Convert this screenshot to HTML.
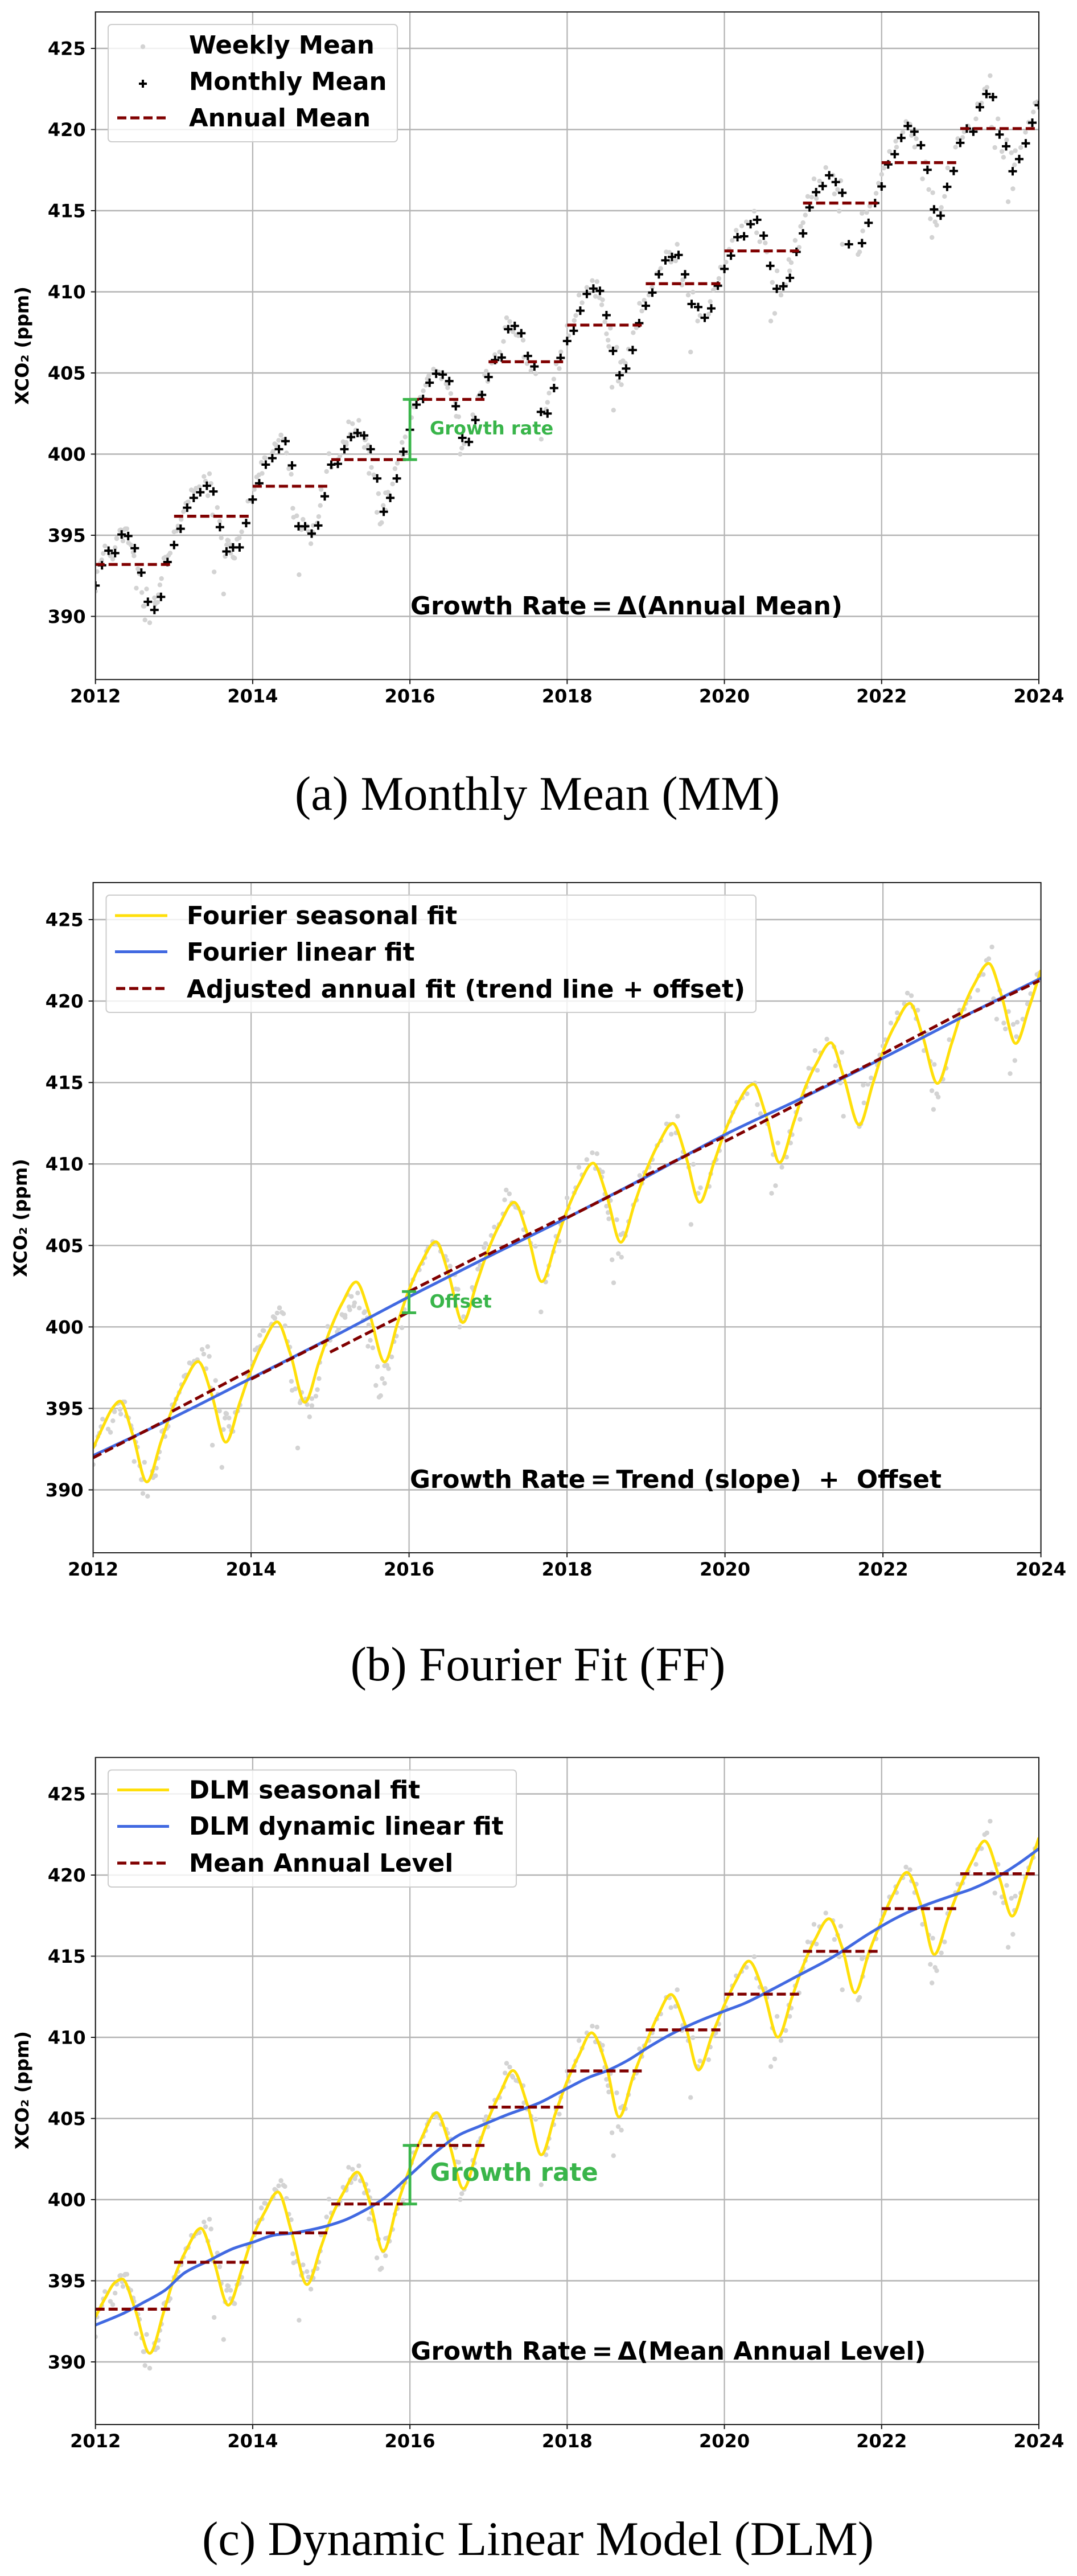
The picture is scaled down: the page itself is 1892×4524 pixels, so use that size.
<!DOCTYPE html>
<html lang="en">
<head>
<meta charset="utf-8">
<title>XCO2 growth rate methods</title>
<style>
html,body{margin:0;padding:0;background:#fff;}
svg{display:block;}
.sans{font-family:"DejaVu Sans","Liberation Sans",sans-serif;font-weight:700;fill:#000;}
.serif{font-family:"Liberation Serif","DejaVu Serif",serif;font-weight:400;fill:#000;}
.leg{font-size:43.5px;}
.formula{font-size:43.8px;}
.caption{font-size:85px;}
.ylab{font-size:32px;}
.green{fill:#39b54a;}
</style>
</head>
<body>
<svg xmlns="http://www.w3.org/2000/svg" width="1892" height="4524" viewBox="0 0 1892 4524">
  <rect x="0" y="0" width="1892" height="4524" fill="#fff"/>

  <!-- Panel A -->
  <g id="panel-a">
    <g id="a-grid"></g>
    <g id="a-marks"></g>
    <g id="a-axes"></g>
    <text class="sans ylab" transform="translate(50 607) rotate(-90)" text-anchor="middle">XCO₂ (ppm)</text>
    <g>
      <rect x="190" y="43" width="508" height="206" rx="6" fill="#fff" fill-opacity="0.8" stroke="#cccccc" stroke-width="2"/>
      <circle cx="251" cy="82" r="4.2" fill="#d3d3d3"/>
      <path d="M244 147H258M251 140V154" stroke="#000" stroke-width="4" fill="none"/>
      <line x1="206" y1="207" x2="294" y2="207" stroke="#800000" stroke-width="5.2" stroke-dasharray="16 7"/>
      <text class="sans leg" x="332" y="94">Weekly Mean</text>
      <text class="sans leg" x="332" y="158">Monthly Mean</text>
      <text class="sans leg" x="332" y="222">Annual Mean</text>
    </g>
    <text class="sans green" font-size="32" x="755" y="763">Growth rate</text>
    <text class="sans formula" x="721" y="1079" textLength="759">Growth Rate&#8201;=&#8201;Δ(Annual Mean)</text>
    <text class="serif caption" x="944" y="1422" text-anchor="middle">(a) Monthly Mean (MM)</text>
  </g>

  <!-- Panel B -->
  <g id="panel-b">
    <g id="b-grid"></g>
    <g id="b-marks"></g>
    <g id="b-axes"></g>
    <text class="sans ylab" transform="translate(47 2139) rotate(-90)" text-anchor="middle">XCO₂ (ppm)</text>
    <g>
      <rect x="186.5" y="1572" width="1141.5" height="206" rx="6" fill="#fff" fill-opacity="0.8" stroke="#cccccc" stroke-width="2"/>
      <line x1="202" y1="1608" x2="294" y2="1608" stroke="#ffdf0a" stroke-width="5"/>
      <line x1="202" y1="1671.5" x2="294" y2="1671.5" stroke="#4169e1" stroke-width="5"/>
      <line x1="204" y1="1736" x2="294" y2="1736" stroke="#800000" stroke-width="5.2" stroke-dasharray="16 7"/>
      <text class="sans leg" x="328" y="1623">Fourier seasonal fit</text>
      <text class="sans leg" x="328" y="1687">Fourier linear fit</text>
      <text class="sans leg" x="328" y="1752" textLength="981">Adjusted annual fit (trend line + offset)</text>
    </g>
    <text class="sans green" font-size="32" x="754.6" y="2296.5">Offset</text>
    <text class="sans formula" x="720" y="2613" textLength="934">Growth Rate&#8201;=&#8201;Trend (slope)&#160;&#160;+&#160;&#160;Offset</text>
    <text class="serif caption" x="945" y="2951" text-anchor="middle">(b) Fourier Fit (FF)</text>
  </g>

  <!-- Panel C -->
  <g id="panel-c">
    <g id="c-grid"></g>
    <g id="c-marks"></g>
    <g id="c-axes"></g>
    <text class="sans ylab" transform="translate(50 3671) rotate(-90)" text-anchor="middle">XCO₂ (ppm)</text>
    <g>
      <rect x="190" y="3108.5" width="717" height="205.5" rx="6" fill="#fff" fill-opacity="0.8" stroke="#cccccc" stroke-width="2"/>
      <line x1="206" y1="3143.5" x2="297" y2="3143.5" stroke="#ffdf0a" stroke-width="5"/>
      <line x1="206" y1="3207.5" x2="297" y2="3207.5" stroke="#4169e1" stroke-width="5"/>
      <line x1="206" y1="3272" x2="297" y2="3272" stroke="#800000" stroke-width="5.2" stroke-dasharray="16 7"/>
      <text class="sans leg" x="332" y="3158.5">DLM seasonal fit</text>
      <text class="sans leg" x="332" y="3222">DLM dynamic linear fit</text>
      <text class="sans leg" x="332" y="3287">Mean Annual Level</text>
    </g>
    <text class="sans green" font-size="43.5" x="755.5" y="3830">Growth rate</text>
    <text class="sans formula" x="721.5" y="4144" textLength="905">Growth Rate&#8201;=&#8201;Δ(Mean Annual Level)</text>
    <text class="serif caption" x="945" y="4487" text-anchor="middle">(c) Dynamic Linear Model (DLM)</text>
  </g>
</svg>

<script>
// ---- Axis ticks ----
const xTickYears = [2012, 2014, 2016, 2018, 2020, 2022, 2024];
const xTickLabels = ['2012', '2014', '2016', '2018', '2020', '2022', '2024'];
const yTickValues = [390, 395, 400, 405, 410, 415, 420, 425];
const yTickLabels = ['390', '395', '400', '405', '410', '415', '420', '425'];

// ---- Weekly means (shared by all panels) ----
const weeklyDates = [
2012.00,2012.02,2012.06,2012.08,2012.10,2012.12,2012.19,2012.22,2012.25,2012.27,2012.31,2012.32,2012.35,2012.37,2012.40,2012.42,2012.45,2012.48,2012.49,2012.52,2012.54,2012.56,2012.59,2012.61,2012.63,2012.65,2012.69,2012.75,2012.76,2012.79,2012.82,2012.84,2012.87,2012.89,2012.91,2012.93,2012.95,
2013.00,2013.03,2013.05,2013.09,2013.12,2013.15,2013.18,2013.22,2013.25,2013.28,2013.32,2013.38,2013.40,2013.43,2013.45,2013.47,2013.49,2013.51,2013.55,2013.58,2013.60,2013.63,2013.65,2013.67,2013.69,2013.72,2013.75,2013.77,2013.80,2013.83,2013.86,
2013.94,2013.96,2014.02,2014.05,2014.08,2014.12,2014.11,2014.15,2014.26,2014.28,2014.30,2014.33,2014.36,2014.39,2014.43,2014.46,2014.49,2014.51,2014.52,2014.56,2014.59,2014.63,2014.64,2014.69,2014.74,2014.77,2014.84,2014.86,2014.87,
2014.94,2014.97,2015.00,2015.09,2015.11,2015.16,2015.19,2015.22,2015.24,2015.27,2015.31,2015.35,2015.42,2015.44,2015.47,2015.49,2015.48,2015.51,2015.54,2015.60,2015.58,2015.62,2015.64,2015.66,2015.69,2015.72,2015.78,2015.81,2015.84,2015.91,2015.90,2015.94,
2016.02,2016.05,2016.13,2016.17,2016.20,2016.22,2016.24,2016.30,2016.34,2016.37,2016.40,2016.46,2016.48,2016.52,2016.58,2016.59,2016.62,2016.64,2016.66,2016.69,2016.80,2016.82,2016.87,2016.90,
2016.95,2016.97,2016.99,2017.04,2017.08,2017.14,2017.19,2017.21,2017.23,2017.27,2017.30,2017.31,2017.35,2017.38,2017.44,2017.45,2017.49,2017.54,2017.60,2017.67,2017.73,2017.75,2017.77,2017.83,2017.86,2017.90,2017.92,
2018.00,2018.02,2018.09,2018.11,2018.15,2018.19,2018.25,2018.32,2018.38,2018.36,2018.41,2018.45,2018.44,2018.48,2018.50,2018.52,2018.53,2018.55,2018.57,2018.59,2018.63,2018.65,2018.69,2018.68,2018.71,2018.74,2018.78,2018.84,2018.88,2018.92,2018.95,2018.98,
2019.04,2019.08,2019.14,2019.19,2019.26,2019.30,2019.32,2019.38,2019.40,2019.46,2019.47,2019.54,2019.57,2019.60,2019.66,2019.69,2019.80,2019.82,2019.86,2019.89,2019.93,2019.95,
2020.02,2020.06,2020.10,2020.15,2020.22,2020.28,2020.38,2020.41,2020.45,2020.52,2020.54,2020.59,2020.61,2020.64,2020.67,2020.72,2020.78,2020.82,2020.83,2020.85,2020.90,2020.95,2020.97,
2021.00,2021.03,2021.06,2021.11,2021.14,2021.17,2021.21,2021.29,2021.38,2021.40,2021.44,2021.46,2021.48,2021.50,2021.70,2021.72,2021.75,2021.76,2021.81,2021.85,2021.93,2021.96,
2022.00,2022.03,2022.10,2022.18,2022.19,2022.27,2022.31,2022.36,2022.38,2022.42,2022.44,2022.52,2022.56,2022.60,2022.62,2022.64,2022.65,2022.68,2022.70,2022.76,2022.80,2022.84,2022.94,2022.97,
2023.03,2023.05,2023.10,2023.20,2023.22,2023.27,2023.31,2023.34,2023.38,2023.40,2023.44,2023.48,2023.53,2023.55,2023.59,2023.61,2023.65,2023.67,2023.69,2023.70,2023.77,2023.83,2023.87,2023.93,2023.95,2023.98,
2014.11,2014.16,2014.25,2014.30,2014.36,2014.41,2015.15,2015.19,2015.25,2015.30,2015.37,2015.43,2014.62,2014.71,2014.77,2014.82,
2013.17,2013.22,2013.32,2013.68,2013.67,2013.72,2013.76,2012.27,2012.34,2012.38,2012.62,2012.76,2012.80,2015.69,2015.74
];
const weeklyValues = [
391.55,392.76,393.27,393.48,393.88,394.34,393.73,393.53,394.24,394.79,395.30,395.33,394.65,395.35,395.40,394.53,394.41,393.94,393.73,391.74,392.93,392.62,391.47,390.63,389.78,391.69,389.61,391.14,390.75,390.87,391.94,392.33,393.59,393.65,393.27,393.76,393.90,
395.21,395.26,395.57,395.98,396.46,396.97,397.05,397.79,397.73,397.90,397.99,398.62,398.33,397.44,398.79,398.19,396.25,392.74,396.71,395.86,394.84,391.38,393.70,394.41,394.67,393.90,393.65,393.59,394.75,394.84,395.21,
397.10,397.14,397.82,398.59,398.72,398.81,399.49,399.78,400.17,400.63,400.55,400.85,401.18,400.89,400.07,399.10,398.76,396.66,396.11,396.20,392.57,395.47,395.98,395.57,394.48,395.60,396.15,396.83,397.82,
398.93,400.03,399.18,399.69,399.90,400.72,400.72,401.99,401.23,401.87,401.48,402.08,400.41,400.94,400.55,400.12,398.81,399.18,398.72,397.56,396.41,395.69,395.78,396.83,396.54,397.65,398.16,399.10,399.44,399.95,400.72,401.06,
402.25,402.90,403.50,403.90,404.25,404.64,404.83,405.24,405.11,405.05,404.64,404.33,404.09,403.73,403.20,402.33,402.30,400.00,400.37,400.63,402.42,402.25,403.55,403.78,
404.87,405.11,404.48,405.61,406.13,406.29,406.94,407.80,408.40,408.17,407.62,407.54,407.34,407.30,407.02,405.97,405.58,405.14,404.95,400.92,402.76,403.19,403.76,404.62,405.56,405.27,406.30,
407.92,407.29,408.23,408.54,409.80,409.33,410.27,410.69,410.63,409.72,409.64,409.51,409.20,408.15,407.41,407.02,406.63,407.76,404.12,402.71,406.58,404.50,404.28,405.66,405.75,405.60,406.47,407.48,407.79,409.29,408.82,409.48,
409.80,410.27,411.13,411.44,412.46,412.43,411.83,411.91,412.93,410.42,410.74,409.80,406.29,409.98,408.20,408.54,408.62,409.40,410.11,410.27,410.82,411.52,
411.83,412.62,413.17,413.79,414.06,414.31,414.97,413.64,413.09,413.01,412.46,408.20,410.58,408.67,411.29,409.80,410.42,411.99,411.29,411.80,413.17,412.74,414.03,
414.26,414.73,415.88,415.83,416.96,415.75,416.82,417.66,417.19,416.03,416.30,414.97,416.85,412.93,412.30,412.46,414.84,413.75,414.89,415.28,416.07,416.69,
417.24,417.63,418.65,419.28,418.92,419.83,420.49,420.33,419.64,418.92,419.44,416.96,418.00,416.30,414.50,413.35,416.11,414.31,414.11,415.20,415.88,417.63,418.92,419.44,
419.51,419.86,420.22,420.66,421.58,421.63,422.49,422.60,423.32,420.14,418.89,420.66,418.65,418.29,419.36,415.55,418.57,416.35,417.82,418.70,418.89,419.83,420.45,421.08,421.63,421.71,
399.48,399.77,400.06,400.52,401.16,400.81,400.76,400.58,401.05,401.28,401.16,400.87,395.34,395.23,395.17,395.75,
397.03,397.79,397.96,394.70,394.41,394.41,393.60,394.82,394.94,395.40,390.63,390.86,391.33,397.61,397.44
];

// ---- Panel A: monthly means, one per month starting Jan 2012 (null = no data) ----
const monthlyValues = [
391.9,393.15,394.05,393.9,395.05,394.95,394.2,392.7,390.9,390.4,391.2,393.35,
394.4,395.4,396.7,397.3,397.65,398.05,397.7,395.5,394.0,394.25,394.25,395.75,
397.2,398.2,399.35,399.75,400.3,400.8,399.3,395.55,395.55,395.1,395.6,397.4,
399.35,399.4,400.3,401.05,401.3,401.15,400.3,398.5,396.45,397.3,398.5,400.15,
401.5,403.05,403.4,404.4,404.95,404.9,404.5,402.95,401.0,400.75,402.1,403.65,
404.75,405.8,405.95,407.7,407.9,407.45,406.05,405.4,402.6,402.5,404.07,405.93,
406.97,407.6,408.84,409.87,410.2,410.06,408.56,406.36,404.86,405.27,406.41,408.07,
409.14,409.95,411.08,411.94,412.15,412.27,411.08,409.25,409.06,408.4,408.98,410.38,
411.41,412.23,413.37,413.42,414.17,414.44,413.46,411.6,410.19,410.34,410.86,412.46,
413.6,415.2,416.14,416.52,417.18,416.76,416.1,412.93,null,413.0,414.25,415.47,
416.49,417.85,418.48,419.48,420.22,419.87,419.03,417.52,415.08,414.69,416.47,417.45,
419.18,420.06,419.87,421.38,422.19,422.0,419.69,418.97,417.43,418.18,419.15,420.42,
421.5
];
const annualYears = [2012,2013,2014,2015,2016,2017,2018,2019,2020,2021,2022,2023];
const annualMeans = [393.2,396.17,398.02,399.66,403.37,405.69,407.95,410.5,412.52,415.47,417.96,420.06];

// ---- Panel B: Fourier fit ----
const fourierDates = [
2012.00,2012.12,2012.25,2012.34,2012.50,2012.68,2012.86,2013.00,2013.15,2013.33,2013.50,2013.68,
2013.86,2014.00,2014.15,2014.33,2014.50,2014.68,2014.86,2015.00,2015.15,2015.33,2015.50,2015.69,
2015.86,2016.00,2016.15,2016.34,2016.50,2016.68,2016.86,2017.00,2017.15,2017.33,2017.50,2017.68,
2017.86,2018.00,2018.15,2018.33,2018.50,2018.68,2018.86,2019.00,2019.15,2019.34,2019.50,2019.68,
2019.86,2020.00,2020.15,2020.30,2020.36,2020.52,2020.69,2020.87,2021.00,2021.15,2021.34,2021.50,2021.70,
2021.87,2022.00,2022.15,2022.34,2022.50,2022.69,2022.87,2023.00,2023.15,2023.34,2023.50,2023.68,
2023.85,2024.00
];
const fourierSeasonal = [
392.55,393.83,395.05,395.44,393.40,390.49,392.96,394.94,396.57,397.87,395.87,392.93,
395.40,397.36,399.00,400.31,398.30,395.38,397.85,399.81,401.43,402.76,400.80,397.85,
400.32,402.28,403.90,405.23,403.25,400.27,402.74,404.70,406.32,407.65,405.70,402.78,
405.20,407.14,408.74,410.05,408.10,405.20,407.64,409.57,411.17,412.49,410.55,407.65,
410.08,412.00,413.60,414.75,414.90,412.97,410.09,412.55,414.50,416.10,417.44,415.40,412.40,
414.90,416.88,418.50,419.86,417.90,414.95,417.40,419.36,420.98,422.31,420.35,417.40,
419.60,421.90
];
const trendYears = [2012,2013,2014,2015,2016,2017,2018,2019,2020,2021,2022,2023,2024];
const fourierLinear = [392.1,394.4,396.85,399.3,401.85,404.3,406.7,409.2,411.8,414.1,416.5,419.0,421.4];
const adjustedStart = [391.97,394.82,396.8,398.45,402.17,404.45,406.7,409.3,411.39,414.15,416.76,419.0];
const adjustedEnd   = [394.41,397.32,399.22,400.87,404.57,406.8,409.1,411.65,413.83,416.5,419.25,421.25];

// ---- Panel C: DLM ----
const dlmDates = [
2012.00,2012.12,2012.25,2012.34,2012.50,2012.69,2012.87,2013.00,2013.15,2013.34,2013.50,2013.69,
2013.87,2014.00,2014.15,2014.32,2014.50,2014.69,2014.87,2015.00,2015.15,2015.33,2015.50,2015.66,
2015.84,2016.00,2016.15,2016.34,2016.50,2016.68,2016.86,2017.00,2017.15,2017.31,2017.50,2017.67,
2017.85,2018.00,2018.15,2018.31,2018.50,2018.66,2018.84,2019.00,2019.15,2019.32,2019.50,2019.67,
2019.85,2020.00,2020.15,2020.31,2020.50,2020.68,2020.86,2021.00,2021.15,2021.33,2021.50,2021.66,
2021.84,2022.00,2022.15,2022.32,2022.50,2022.67,2022.85,2023.00,2023.15,2023.31,2023.50,2023.66,
2023.84,2024.00
];
const dlmSeasonal = [
392.76,393.90,394.90,395.11,393.30,390.53,393.11,395.15,396.84,398.23,396.30,393.50,
395.83,397.70,399.20,400.47,397.90,394.77,397.10,398.90,400.40,401.69,399.70,396.82,
399.70,401.95,403.80,405.36,403.45,400.67,403.10,405.00,406.60,407.95,405.75,402.76,
405.30,407.30,408.90,410.28,408.20,405.09,407.60,409.60,411.30,412.64,410.80,407.99,
410.24,412.00,413.50,414.70,412.80,410.01,412.45,414.40,416.00,417.31,415.50,412.75,
415.25,417.20,418.85,420.17,418.15,415.11,417.45,419.30,420.85,422.10,419.80,417.47,
419.90,422.30
];
const dlmLevelDates = [2012,2012.36,2012.58,2012.88,2013.14,2013.45,2013.76,2014,2014.28,2014.5,2014.85,2015.15,2015.41,2015.66,2016,2016.34,2016.64,2016.9,2017.21,2017.64,2017.9,2018.29,2018.51,2018.77,2019.03,2019.32,2019.67,2020,2020.26,2020.61,2020.96,2021.31,2021.48,2021.83,2022.18,2022.44,2022.92,2023.14,2023.49,2023.75,2024];
const dlmLevelValues = [392.27,393,393.58,394.4,395.51,396.26,397,397.37,397.82,397.93,398.26,398.7,399.3,400.05,401.51,402.98,404.02,404.55,405.18,405.95,406.6,407.56,407.95,408.58,409.38,410.19,410.99,411.62,412.1,412.96,413.86,414.75,415.25,416.36,417.34,417.93,418.77,419.13,419.94,420.74,421.62];
const meanAnnualLevel = [393.25,396.14,397.95,399.73,403.34,405.7,407.93,410.46,412.66,415.3,417.93,420.08];

// ---- Colours ----
const GRID = '#b4b4b4', SPINE = '#1c1c1c', GRAY = '#d3d3d3', MAROON = '#800000', YELLOW = '#ffdf0a', BLUE = '#4169e1', GREEN = '#39b54a';
const NS = 'http://www.w3.org/2000/svg';

function make(tag, attrs, parent, name) {
  const el = document.createElementNS(NS, tag);
  for (const k in attrs) el.setAttribute(k, attrs[k]);
  
  
  parent.appendChild(el);
  return el;
}

function axis(domain0, domain1, range0, range1) {
  return v => range0 + (v - domain0) * (range1 - range0) / (domain1 - domain0);
}

// Monotone cubic (flat at extrema), same construction as d3.curveMonotoneX
function monotonePath(xs, ys) {
  const n = xs.length, d = [], m = new Array(n);
  for (let i = 0; i < n - 1; i++) d[i] = (ys[i + 1] - ys[i]) / (xs[i + 1] - xs[i]);
  m[0] = d[0]; m[n - 1] = d[n - 2];
  for (let i = 1; i < n - 1; i++) m[i] = d[i - 1] * d[i] <= 0 ? 0 : 2 * d[i - 1] * d[i] / (d[i - 1] + d[i]);
  let s = 'M' + xs[0].toFixed(1) + ' ' + ys[0].toFixed(1);
  for (let i = 0; i < n - 1; i++) {
    const h = (xs[i + 1] - xs[i]) / 3;
    s += 'C' + (xs[i] + h).toFixed(1) + ' ' + (ys[i] + m[i] * h).toFixed(1) + ' ' +
         (xs[i + 1] - h).toFixed(1) + ' ' + (ys[i + 1] - m[i + 1] * h).toFixed(1) + ' ' +
         xs[i + 1].toFixed(1) + ' ' + ys[i + 1].toFixed(1);
  }
  return s;
}

function buildFrame(id, box) {
  const x = axis(2012, 2024, box.left, box.right);
  const y = axis(390, 425, box.y390, box.y425);
  const grid = document.getElementById(id + '-grid');
  const axes = document.getElementById(id + '-axes');

  xTickYears.forEach((yr, i) => {
    make('line', {x1: x(yr), x2: x(yr), y1: box.top, y2: box.bottom, stroke: GRID, 'stroke-width': 2.2}, grid, 'vertical-gridline');
    make('line', {x1: x(yr), x2: x(yr), y1: box.bottom, y2: box.bottom + 8, stroke: SPINE, 'stroke-width': 2}, axes, 'x-tick');
    const t = make('text', {x: x(yr), y: box.bottom + 40, 'text-anchor': 'middle', 'font-size': 32, class: 'sans'}, axes, 'x-tick-label');
    t.textContent = xTickLabels[i];
  });
  yTickValues.forEach((v, i) => {
    make('line', {x1: box.left, x2: box.right, y1: y(v), y2: y(v), stroke: GRID, 'stroke-width': 2.4}, grid, 'horizontal-gridline');
    make('line', {x1: box.left - 8, x2: box.left, y1: y(v), y2: y(v), stroke: SPINE, 'stroke-width': 2}, axes, 'y-tick');
    const t = make('text', {x: box.left - 17, y: y(v) + 11.5, 'text-anchor': 'end', 'font-size': 32, class: 'sans'}, axes, 'y-tick-label');
    t.textContent = yTickLabels[i];
  });
  make('rect', {x: box.left, y: box.top, width: box.right - box.left, height: box.bottom - box.top, fill: 'none', stroke: SPINE, 'stroke-width': 2}, axes, 'plot-frame');

  const marks = document.getElementById(id + '-marks');
  const defs = make('clipPath', {id: id + '-clip'}, marks, 'plot-clip');
  make('rect', {x: box.left, y: box.top, width: box.right - box.left, height: box.bottom - box.top}, defs, 'plot-clip-area');
  const layer = make('g', {'clip-path': 'url(#' + id + '-clip)'}, marks, 'clipped-series');
  return {x, y, layer};
}

function drawWeekly(f) {
  const g = make('g', {fill: GRAY}, f.layer, 'weekly-mean-series');
  weeklyDates.forEach((d, i) => {
    make('circle', {cx: f.x(d).toFixed(1), cy: f.y(weeklyValues[i]).toFixed(1), r: 4.2}, g, 'weekly-mean-point');
  });
}

function drawSegments(f, values, name) {
  const g = make('g', {stroke: MAROON, 'stroke-width': 5.2, 'stroke-dasharray': '16 7'}, f.layer, name + '-series');
  annualYears.forEach((yr, i) => {
    make('line', {x1: f.x(yr), x2: f.x(yr + 0.96), y1: f.y(values[i]), y2: f.y(values[i])}, g, name + '-segment');
  });
}

function drawBracket(f, year, low, high, name) {
  const g = make('g', {stroke: GREEN, 'stroke-width': 4.8, fill: 'none'}, f.layer, name);
  const cx = f.x(year);
  make('line', {x1: cx, x2: cx, y1: f.y(low), y2: f.y(high)}, g, name + '-stem');
  make('line', {x1: cx - 12.5, x2: cx + 12.5, y1: f.y(low), y2: f.y(low)}, g, name + '-cap');
  make('line', {x1: cx - 12.5, x2: cx + 12.5, y1: f.y(high), y2: f.y(high)}, g, name + '-cap');
}

function drawCurve(f, dates, values, color, name) {
  make('path', {d: monotonePath(dates.map(f.x), values.map(f.y)), fill: 'none', stroke: color, 'stroke-width': 5, 'stroke-linejoin': 'round'}, f.layer, name);
}

// Panel A
const fa = buildFrame('a', {left: 167.7, right: 1825, top: 21, bottom: 1193.4, y390: 1082.5, y425: 85});
drawWeekly(fa);
const monthlyGroup = make('g', {stroke: '#000', 'stroke-width': 4, fill: 'none'}, fa.layer, 'monthly-mean-series');
monthlyValues.forEach((v, i) => {
  if (v === null) return;
  const cx = fa.x(2012 + i / 12), cy = fa.y(v);
  make('path', {d: 'M' + (cx - 7.5).toFixed(1) + ' ' + cy.toFixed(1) + 'h15M' + cx.toFixed(1) + ' ' + (cy - 7.5).toFixed(1) + 'v15'}, monthlyGroup, 'monthly-mean-point');
});
drawSegments(fa, annualMeans, 'annual-mean');
drawBracket(fa, 2016, annualMeans[3], annualMeans[4], 'growth-rate-bracket');

// Panel B
const fb = buildFrame('b', {left: 163.6, right: 1828.6, top: 1550, bottom: 2727, y390: 2616.5, y425: 1615});
drawWeekly(fb);
drawCurve(fb, fourierDates, fourierSeasonal, YELLOW, 'fourier-seasonal-fit');
drawCurve(fb, trendYears, fourierLinear, BLUE, 'fourier-linear-fit');
const adjGroup = make('g', {stroke: MAROON, 'stroke-width': 5.2, 'stroke-dasharray': '16 7'}, fb.layer, 'adjusted-annual-fit-series');
annualYears.forEach((yr, i) => {
  make('line', {x1: fb.x(yr), x2: fb.x(yr + 0.98), y1: fb.y(adjustedStart[i]), y2: fb.y(adjustedEnd[i])}, adjGroup, 'adjusted-annual-segment');
});
drawBracket(fb, 2016, adjustedEnd[3], adjustedStart[4], 'offset-bracket');

// Panel C
const fc = buildFrame('c', {left: 167.7, right: 1825, top: 3086.5, bottom: 4258, y390: 4148, y425: 3150.5});
drawWeekly(fc);
drawCurve(fc, dlmDates, dlmSeasonal, YELLOW, 'dlm-seasonal-fit');
drawCurve(fc, dlmLevelDates, dlmLevelValues, BLUE, 'dlm-dynamic-linear-fit');
drawSegments(fc, meanAnnualLevel, 'mean-annual-level');
drawBracket(fc, 2016, meanAnnualLevel[3], meanAnnualLevel[4], 'growth-rate-bracket');
</script>
</body>
</html>
